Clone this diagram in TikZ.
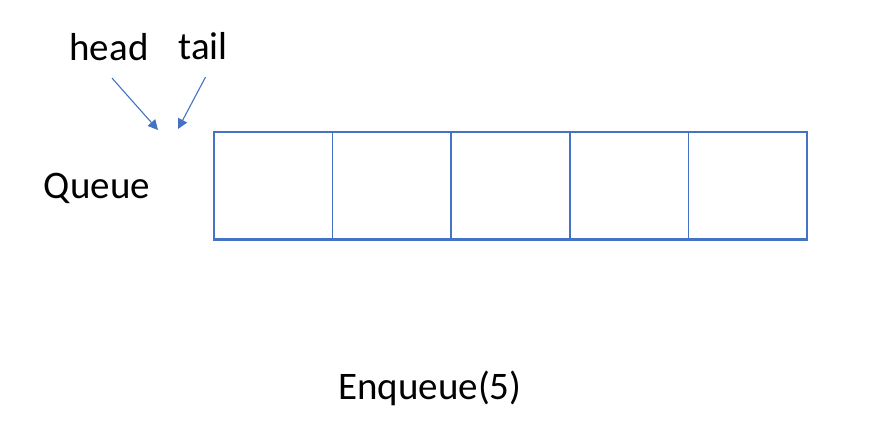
\documentclass[tikz,border=0pt]{standalone}
\usepackage{fontspec}
\setmainfont{Carlito}
\usetikzlibrary{arrows.meta}
\definecolor{qblue}{HTML}{4472C4}
\tikzset{
    cell/.style={draw=qblue, line width=0.75pt, rectangle, minimum width=59.3pt, minimum height=53.5pt, inner sep=0pt},
    lbl/.style={inner sep=0pt, font=\fontsize{19.5}{23}\selectfont},
    ptr/.style={qblue, line width=0.55pt, -{Triangle[length=5pt, width=5pt]}}
}
\begin{document}
\begin{tikzpicture}[x=0.5pt, y=-0.5pt]
        \useasboundingbox (0,0) rectangle (888,441);
        % labels
        \node[lbl] (head) at (109,47) {head};
        \node[lbl] (tail) at (203,46) {tail};
        \node[lbl] (queue) at (97,188) {Queue};
        \node[lbl] (enq) at (430,388) {Enqueue(5)};
        % queue cells
        \foreach \i in {0,...,4}
            \node[cell] (c\i) at (273.3+118.6*\i,185.5) {};
        \draw[qblue, line width=1.25pt] (c0.south west) -- (c4.south east);
        % pointers
        \coordinate (hs) at ([shift={(3,17)}]head.south);
        \coordinate (ts) at ([shift={(2.5,17)}]tail.south);
        \coordinate (hend) at (158,130);
        \coordinate (tend) at (178,129);
        \draw[ptr] (hs) -- (hend);
        \draw[ptr] (ts) -- (tend);
    \end{tikzpicture}
\end{document}
